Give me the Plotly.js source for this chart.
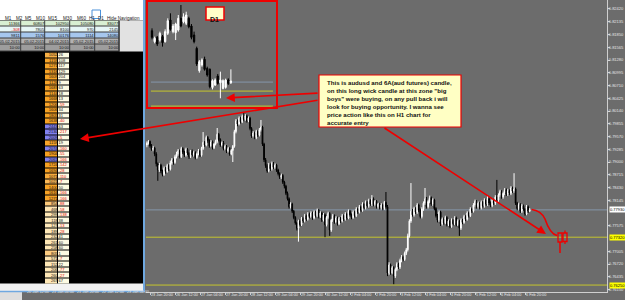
<!DOCTYPE html>
<html><head><meta charset="utf-8">
<script src="https://cdn.plot.ly/plotly-3.0.1.min.js"></script>
<style>html,body{margin:0;padding:0;background:#6c6c6c;overflow:hidden}#chart{width:625px;height:300px}</style>
</head><body><div id="chart"></div>
<script>
// ===== H1 candles (AUDUSD), first visible bar index =====
const FIRST_BAR = 78;
const barOpen = [
0.7938,0.7942,0.7946,0.7936,0.7928,0.7931,0.7918,0.7896,0.7882,0.7893,
0.7880,0.7872,0.7886,0.7879,0.7892,0.7884,0.7898,0.7905,0.7899,0.7912,
0.7918,0.7925,0.7912,0.7930,0.7922,0.7915,0.7928,0.7920,0.7912,0.7924,
0.7916,0.7921,0.7910,0.7918,0.7925,0.7915,0.7930,0.7944,0.7938,0.7955,
0.7948,0.7936,0.7945,0.7932,0.7940,0.7946,0.7962,0.7950,0.7938,0.7943,
0.7930,0.7935,0.7924,0.7930,0.7918,0.7926,0.7935,0.7968,0.7992,0.7985,
0.7998,0.7990,0.8002,0.7995,0.8003,0.7992,0.7998,0.7975,0.7958,0.7965,
0.7955,0.7968,0.7960,0.7972,0.7978,0.7940,0.7905,0.7892,0.7880,0.7894,
0.7885,0.7897,0.7888,0.7893,0.7882,0.7874,0.7866,0.7870,0.7855,0.7846,
0.7830,0.7818,0.7800,0.7806,0.7790,0.7776,0.7764,0.7752,0.7768,0.7760,
0.7774,0.7768,0.7780,0.7772,0.7784,0.7778,0.7786,0.7775,0.7788,0.7780,
0.7792,0.7778,0.7786,0.7770,0.7782,0.7760,0.7776,0.7785,0.7748,0.7770,
0.7780,0.7766,0.7775,0.7762,0.7774,0.7768,0.7780,0.7772,0.7784,0.7775,
0.7790,0.7782,0.7776,0.7788,0.7780,0.7795,0.7788,0.7800,0.7792,0.7806,
0.7798,0.7810,0.7802,0.7814,0.7806,0.7818,0.7805,0.7812,0.7800,0.7806,
0.7798,0.7804,0.7796,0.7810,0.7800,0.7652,0.7670,0.7652,0.7664,0.7645,
0.7660,0.7672,0.7665,0.7680,0.7688,0.7682,0.7696,0.7704,0.7735,0.7768,
0.7790,0.7782,0.7796,0.7788,0.7804,0.7792,0.7778,0.7795,0.7808,0.7818,
0.7800,0.7812,0.7820,0.7806,0.7815,0.7796,0.7780,0.7770,0.7788,0.7762,
0.7772,0.7764,0.7776,0.7760,0.7768,0.7756,0.7770,0.7762,0.7775,0.7760,
0.7768,0.7752,0.7770,0.7765,0.7778,0.7772,0.7786,0.7780,0.7795,0.7790,
0.7804,0.7812,0.7800,0.7808,0.7798,0.7810,0.7802,0.7815,0.7806,0.7818,
0.7808,0.7803,0.7815,0.7808,0.7822,0.7815,0.7826,0.7834,0.7822,0.7830,
0.7838,0.7828,0.7836,0.7830,0.7842,0.7835,0.7840,0.7808,0.7796,0.7805,
0.7790,0.7802,0.7795,0.7784,0.7800,0.7790];
const barHigh = [
0.7946,0.7949,0.7948,0.7940,0.7936,0.7934,0.7922,0.7899,0.7898,0.7896,
0.7883,0.7890,0.7889,0.7896,0.7895,0.7903,0.7909,0.7908,0.7916,0.7923,
0.7929,0.7928,0.7934,0.7933,0.7925,0.7932,0.7931,0.7923,0.7927,0.7928,
0.7925,0.7924,0.7921,0.7929,0.7928,0.7934,0.7967,0.7947,0.7959,0.7958,
0.7951,0.7949,0.7948,0.7943,0.7950,0.7976,0.7965,0.7953,0.7946,0.7947,
0.7939,0.7938,0.7934,0.7933,0.7929,0.7938,0.7972,0.7996,0.7995,0.8002,
0.8001,0.8006,0.8012,0.8007,0.8006,0.8002,0.8001,0.7978,0.7969,0.7968,
0.7972,0.7971,0.7976,0.7994,0.7981,0.7943,0.7909,0.7895,0.7898,0.7897,
0.7901,0.7900,0.7897,0.7896,0.7885,0.7877,0.7874,0.7873,0.7858,0.7849,
0.7834,0.7821,0.7810,0.7809,0.7793,0.7779,0.7767,0.7771,0.7772,0.7777,
0.7778,0.7784,0.7783,0.7788,0.7787,0.7790,0.7789,0.7792,0.7791,0.7796,
0.7795,0.7790,0.7789,0.7786,0.7785,0.7779,0.7789,0.7788,0.7773,0.7784,
0.7783,0.7779,0.7778,0.7777,0.7777,0.7784,0.7783,0.7788,0.7787,0.7794,
0.7793,0.7785,0.7792,0.7791,0.7799,0.7798,0.7804,0.7803,0.7810,0.7809,
0.7814,0.7813,0.7818,0.7817,0.7826,0.7821,0.7815,0.7815,0.7809,0.7809,
0.7808,0.7807,0.7813,0.7833,0.7804,0.7676,0.7673,0.7668,0.7667,0.7664,
0.7676,0.7675,0.7684,0.7692,0.7691,0.7700,0.7708,0.7740,0.7772,0.7853,
0.7795,0.7800,0.7799,0.7808,0.7807,0.7796,0.7799,0.7812,0.7842,0.7822,
0.7816,0.7825,0.7823,0.7819,0.7818,0.7799,0.7784,0.7792,0.7791,0.7776,
0.7776,0.7780,0.7779,0.7772,0.7771,0.7774,0.7773,0.7779,0.7778,0.7772,
0.7771,0.7774,0.7773,0.7782,0.7781,0.7790,0.7789,0.7799,0.7798,0.7808,
0.7816,0.7815,0.7812,0.7811,0.7814,0.7813,0.7819,0.7818,0.7824,0.7821,
0.7812,0.7819,0.7818,0.7826,0.7860,0.7830,0.7838,0.7837,0.7834,0.7842,
0.7841,0.7840,0.7839,0.7846,0.7845,0.7875,0.7843,0.7811,0.7809,0.7808,
0.7806,0.7805,0.7798,0.7804,0.7803,0.7797];
const barLow = [
0.7933,0.7939,0.7932,0.7925,0.7924,0.7913,0.7890,0.7858,0.7878,0.7875,
0.7868,0.7869,0.7874,0.7876,0.7880,0.7881,0.7894,0.7894,0.7896,0.7908,
0.7914,0.7908,0.7909,0.7918,0.7911,0.7912,0.7916,0.7907,0.7909,0.7912,
0.7912,0.7906,0.7907,0.7915,0.7911,0.7912,0.7927,0.7934,0.7935,0.7943,
0.7932,0.7933,0.7928,0.7929,0.7937,0.7942,0.7946,0.7934,0.7935,0.7926,
0.7926,0.7920,0.7921,0.7914,0.7915,0.7900,0.7932,0.7964,0.7980,0.7982,
0.7986,0.7987,0.7991,0.7992,0.7988,0.7989,0.7971,0.7954,0.7955,0.7951,
0.7951,0.7956,0.7957,0.7968,0.7936,0.7900,0.7887,0.7876,0.7877,0.7880,
0.7881,0.7884,0.7884,0.7878,0.7870,0.7862,0.7862,0.7851,0.7841,0.7826,
0.7814,0.7796,0.7796,0.7786,0.7772,0.7760,0.7747,0.7722,0.7756,0.7757,
0.7764,0.7765,0.7768,0.7769,0.7774,0.7775,0.7771,0.7772,0.7776,0.7777,
0.7774,0.7775,0.7766,0.7767,0.7732,0.7756,0.7772,0.7735,0.7744,0.7766,
0.7762,0.7763,0.7758,0.7759,0.7764,0.7765,0.7768,0.7769,0.7771,0.7772,
0.7778,0.7772,0.7773,0.7776,0.7777,0.7784,0.7785,0.7788,0.7789,0.7794,
0.7794,0.7798,0.7798,0.7802,0.7802,0.7801,0.7801,0.7796,0.7796,0.7794,
0.7794,0.7792,0.7793,0.7796,0.7645,0.7648,0.7648,0.7649,0.7627,0.7641,
0.7656,0.7661,0.7661,0.7676,0.7678,0.7679,0.7692,0.7700,0.7731,0.7764,
0.7778,0.7778,0.7784,0.7784,0.7788,0.7774,0.7774,0.7791,0.7804,0.7796,
0.7796,0.7808,0.7802,0.7802,0.7792,0.7776,0.7765,0.7766,0.7757,0.7758,
0.7760,0.7761,0.7756,0.7757,0.7752,0.7753,0.7758,0.7759,0.7756,0.7757,
0.7735,0.7748,0.7761,0.7762,0.7768,0.7769,0.7776,0.7777,0.7786,0.7787,
0.7800,0.7796,0.7796,0.7794,0.7794,0.7798,0.7798,0.7802,0.7802,0.7804,
0.7799,0.7799,0.7804,0.7804,0.7811,0.7811,0.7822,0.7818,0.7818,0.7826,
0.7824,0.7824,0.7826,0.7826,0.7831,0.7831,0.7804,0.7792,0.7792,0.7786,
0.7786,0.7791,0.7780,0.7781,0.7786,0.7788];
const barClose = [
0.7942,0.7946,0.7936,0.7928,0.7931,0.7918,0.7896,0.7882,0.7893,0.7880,
0.7872,0.7886,0.7879,0.7892,0.7884,0.7898,0.7905,0.7899,0.7912,0.7918,
0.7925,0.7912,0.7930,0.7922,0.7915,0.7928,0.7920,0.7912,0.7924,0.7916,
0.7921,0.7910,0.7918,0.7925,0.7915,0.7930,0.7944,0.7938,0.7955,0.7948,
0.7936,0.7945,0.7932,0.7940,0.7946,0.7962,0.7950,0.7938,0.7943,0.7930,
0.7935,0.7924,0.7930,0.7918,0.7926,0.7935,0.7968,0.7992,0.7985,0.7998,
0.7990,0.8002,0.7995,0.8003,0.7992,0.7998,0.7975,0.7958,0.7965,0.7955,
0.7968,0.7960,0.7972,0.7978,0.7940,0.7905,0.7892,0.7880,0.7894,0.7885,
0.7897,0.7888,0.7893,0.7882,0.7874,0.7866,0.7870,0.7855,0.7846,0.7830,
0.7818,0.7800,0.7806,0.7790,0.7776,0.7764,0.7752,0.7768,0.7760,0.7774,
0.7768,0.7780,0.7772,0.7784,0.7778,0.7786,0.7775,0.7788,0.7780,0.7792,
0.7778,0.7786,0.7770,0.7782,0.7760,0.7776,0.7785,0.7748,0.7770,0.7780,
0.7766,0.7775,0.7762,0.7774,0.7768,0.7780,0.7772,0.7784,0.7775,0.7790,
0.7782,0.7776,0.7788,0.7780,0.7795,0.7788,0.7800,0.7792,0.7806,0.7798,
0.7810,0.7802,0.7814,0.7806,0.7818,0.7805,0.7812,0.7800,0.7806,0.7798,
0.7804,0.7796,0.7810,0.7800,0.7652,0.7670,0.7652,0.7664,0.7645,0.7660,
0.7672,0.7665,0.7680,0.7688,0.7682,0.7696,0.7704,0.7735,0.7768,0.7790,
0.7782,0.7796,0.7788,0.7804,0.7792,0.7778,0.7795,0.7808,0.7818,0.7800,
0.7812,0.7820,0.7806,0.7815,0.7796,0.7780,0.7770,0.7788,0.7762,0.7772,
0.7764,0.7776,0.7760,0.7768,0.7756,0.7770,0.7762,0.7775,0.7760,0.7768,
0.7752,0.7770,0.7765,0.7778,0.7772,0.7786,0.7780,0.7795,0.7790,0.7804,
0.7812,0.7800,0.7808,0.7798,0.7810,0.7802,0.7815,0.7806,0.7818,0.7808,
0.7803,0.7815,0.7808,0.7822,0.7815,0.7826,0.7834,0.7822,0.7830,0.7838,
0.7828,0.7836,0.7830,0.7842,0.7835,0.7840,0.7808,0.7796,0.7805,0.7790,
0.7802,0.7795,0.7784,0.7800,0.7790,0.7793];

// time-axis labels: one every 16 H1 bars, starting at bar 0 = "20 Jan 12:00"
const timeLabels = ["20 Jan 12:00","21 Jan 04:00","21 Jan 20:00","22 Jan 12:00","23 Jan 04:00",
 "23 Jan 20:00","26 Jan 12:00","27 Jan 04:00","27 Jan 20:00","28 Jan 12:00","29 Jan 04:00",
 "29 Jan 20:00","30 Jan 12:00","2 Feb 04:00","2 Feb 20:00","3 Feb 12:00","4 Feb 04:00",
 "4 Feb 20:00","5 Feb 12:00","6 Feb 04:00","6 Feb 20:00"];
const BARS_PER_LABEL = 16;
// price scale labels (the two hidden under the level tags are left out)
const priceTicks = [0.82420,0.82135,0.81850,0.81565,0.81280,0.80995,0.80710,0.80425,0.80140,0.79855,
 0.79570,0.79285,0.79000,0.78715,0.78430,0.78145,0.77575,0.77005,0.76720,0.76435,0.76150];
const currentPrice = 0.7793;
const zoneUpper = 0.7732;
const zoneLower = 0.7625;

// ===== D1 inset candles =====
const d1Open  = [0.8306,0.8197,0.8240,0.8213,0.8247,0.8197,0.8280,0.8413,0.8297,0.8286,0.8313,0.8430,0.8396,0.8380,0.8430,0.8353,0.8263,0.8130,0.7907,0.7964,0.8020,0.7930,0.7920,0.7740,0.7764,0.7854,0.7787,0.7730,0.7740,0.7814,0.7787];
const d1High  = [0.8330,0.8247,0.8253,0.8297,0.8263,0.8320,0.8430,0.8480,0.8373,0.8386,0.8463,0.8563,0.8480,0.8496,0.8446,0.8373,0.8297,0.8147,0.8013,0.8030,0.8047,0.7947,0.7930,0.7820,0.7830,0.7874,0.7897,0.7820,0.7827,0.7830,0.7920];
const d1Low   = [0.8220,0.8180,0.8153,0.8197,0.8147,0.8187,0.8263,0.8306,0.8280,0.8213,0.8297,0.8340,0.8380,0.8363,0.8330,0.8220,0.8180,0.7954,0.7887,0.7947,0.7907,0.7847,0.7730,0.7720,0.7754,0.7767,0.7631,0.7720,0.7727,0.7764,0.7774];
const d1Close = [0.8240,0.8230,0.8173,0.8280,0.8187,0.8297,0.8406,0.8320,0.8353,0.8373,0.8430,0.8353,0.8446,0.8463,0.8346,0.8240,0.8197,0.7974,0.7997,0.8013,0.7920,0.7864,0.7747,0.7807,0.7814,0.7780,0.7814,0.7807,0.7814,0.7780,0.7804];
const d1Levels = {current:0.7793, zoneA:0.7703, zoneB:0.7553};

// ===== navigator table =====
const tableRows = [
 ["11366","60807","102950","105080","83077"],
 ["-308","7805","8100","970","2145"],
 ["9811","1576","10176","1114","14080"],
 ["05.02.2015","05.02.2015","04.02.2015","05.02.2015","05.02.2015"],
 ["10:00","10:00","10:00","10:00","10:00"]];
const tableRowColors = ["#d8efd2","#e6f6f6","#a6c7ee","#b2b2b2","#9d9d9d"];

// ===== volume ladder =====
const ladderVol = [1052,1159,1271,1318,1609,1128,1687,1144,1668,1206,1606,1805,1638,2443,2130,2009,1159,2074,1904,2061,1724,1694,1071,1021,1400,1616,1271,854,468,299,118,127,189,232,261,258,805,571,152,206,260,267];
const ladderDelta = [26,108,117,129,204,9,63,18,13,-59,34,31,-40,63,-217,-5,19,-160,-55,-166,-142,-28,-110,-7,50,-166,-166,-88,-58,-138,38,-13,-28,41,60,60,1,-7,22,-77,-27,67];

const toolbarItems = ["M1","M2","M5","M10","M15","M30","M60","H1","D1"];

// ===== helpers (layout geometry) =====
const W = 625, H = 300;
const px = v => v / W;
const py = v => 1 - v / H;
const GRAY = '#6c6c6c', RED = '#ee0000', FONT = 'Liberation Sans';

const barX = barClose.map((_, k) => FIRST_BAR + k);
const d1X = d1Close.map((_, k) => k);
const rowIdx = ladderVol.map((_, k) => k);

const traces = [];
traces.push({type:'candlestick', x:barX, open:barOpen, high:barHigh, low:barLow, close:barClose,
  xaxis:'x', yaxis:'y', whiskerwidth:0,
  increasing:{line:{color:'#ffffff', width:1}, fillcolor:'#ffffff'},
  decreasing:{line:{color:'#000000', width:1}, fillcolor:'#000000'}, hoverinfo:'skip'});
traces.push({type:'candlestick', x:d1X, open:d1Open, high:d1High, low:d1Low, close:d1Close,
  xaxis:'x2', yaxis:'y2', whiskerwidth:0,
  increasing:{line:{color:'#ffffff', width:1}, fillcolor:'#ffffff'},
  decreasing:{line:{color:'#000000', width:1}, fillcolor:'#000000'}, hoverinfo:'skip'});
// ladder cells
traces.push({type:'heatmap', x:[0,13], y:rowIdx, z:ladderVol.map(v=>[v]), xaxis:'x3', yaxis:'y3',
  zmin:0, zmax:2500, showscale:false, xgap:1, ygap:1, hoverinfo:'skip',
  colorscale:[[0,'#fde9bb'],[0.24,'#fde3ad'],[0.3,'#fccf88'],[0.4,'#fbbd63'],[0.44,'#f6a42a'],[0.77,'#f5a020'],[0.78,'#8080f0'],[1,'#8080f0']]});
traces.push({type:'heatmap', x:[13,25], y:rowIdx, z:ladderDelta.map(()=>[1]), xaxis:'x3', yaxis:'y3',
  showscale:false, xgap:1, ygap:1, hoverinfo:'skip', colorscale:[[0,'#fdfbe3'],[1,'#fdfbe3']]});
traces.push({type:'scatter', mode:'text', x:ladderVol.map(()=>12.6), y:rowIdx, text:ladderVol.map(String),
  textposition:'middle left', textfont:{size:4, color:'#111', family:FONT}, xaxis:'x3', yaxis:'y3', hoverinfo:'skip', cliponaxis:false});
traces.push({type:'scatter', mode:'text', x:ladderDelta.map(()=>13.6), y:rowIdx, text:ladderDelta.map(String),
  textposition:'middle right', textfont:{size:4, color:ladderDelta.map(v=>v<0?'#e00000':'#111'), family:FONT}, xaxis:'x3', yaxis:'y3', hoverinfo:'skip', cliponaxis:false});
// navigator table
const tZ = tableRows.map((r, ri) => r.map(() => ri));
const tCs = [];
tableRowColors.forEach((c, i) => { tCs.push([Math.max(0,(i-0.5)/4), c]); tCs.push([Math.min(1,(i+0.5)/4), c]); });
traces.push({type:'heatmap', x:[0.5,1.5,2.5,3.5,4.5], y:[0,1,2,3,4], z:tZ, xaxis:'x4', yaxis:'y4',
  zmin:0, zmax:4, colorscale:tCs, showscale:false, xgap:1, ygap:1, hoverinfo:'skip'});
const tx=[], ty=[], tt=[], tc=[];
tableRows.forEach((r, ri) => r.forEach((v, ci) => { tx.push(ci + 0.95); ty.push(ri); tt.push(v); tc.push(v.startsWith('-') ? '#e00000' : '#111'); }));
traces.push({type:'scatter', mode:'text', x:tx, y:ty, text:tt, textposition:'middle left',
  textfont:{size:4, color:tc, family:FONT}, xaxis:'x4', yaxis:'y4', hoverinfo:'skip', cliponaxis:false});

// ===== shapes =====
const rect = (x0,y0,x1,y1,fill,line,lw,layer) => ({type:'rect', xref:'paper', yref:'paper',
  x0:px(x0), x1:px(x1), y0:py(y1), y1:py(y0), fillcolor:fill||'rgba(0,0,0,0)',
  line:{color:line||'rgba(0,0,0,0)', width:lw||0}, layer:layer||'below'});
const seg = (x0,y0,x1,y1,color,w,layer) => ({type:'line', xref:'paper', yref:'paper',
  x0:px(x0), x1:px(x1), y0:py(y0), y1:py(y1), line:{color, width:w}, layer:layer||'below'});

const shapes = [
  rect(0,0,145,292,'#000000'),
  rect(0,0,143,20.5,'#ffffff'),
  rect(119.5,20.5,143,51.5,'#e2e2e2'),
  rect(0,20.5,119.5,51.5,'#3c3c3c'),
  rect(0,283.5,143,291,'#f2f2f2'),
  rect(0,292,22,300,'#dedede'),
  seg(0,291.5,145,291.5,'#6fa8e0',1.5),
  seg(144,0,144,292,'#6fa8e0',2),
  rect(92,10,100.5,18.5,'#ffffff','#4a90d9',1),
  // main chart levels
  {type:'line', xref:'x', yref:'y', x0:60, x1:400, y0:currentPrice, y1:currentPrice, line:{color:'#8597ab', width:1}, layer:'below'},
  {type:'line', xref:'x', yref:'y', x0:60, x1:400, y0:zoneUpper, y1:zoneUpper, line:{color:'#c6c62e', width:1}, layer:'below'},
  {type:'line', xref:'x', yref:'y', x0:60, x1:400, y0:zoneLower, y1:zoneLower, line:{color:'#c6c62e', width:1}, layer:'below'},
  // inset levels
  {type:'line', xref:'x2', yref:'y2', x0:-0.4, x1:46, y0:d1Levels.current, y1:d1Levels.current, line:{color:'#8597ab', width:1}, layer:'below'},
  {type:'line', xref:'x2', yref:'y2', x0:-0.4, x1:46, y0:d1Levels.zoneA, y1:d1Levels.zoneA, line:{color:'#c6c62e', width:1}, layer:'below'},
  {type:'line', xref:'x2', yref:'y2', x0:-0.4, x1:46, y0:d1Levels.zoneB, y1:d1Levels.zoneB, line:{color:'#c6c62e', width:1}, layer:'below'},
  // overlays
  rect(147,1,277,108,null,RED,2,'above'),
  rect(206,7,224,20,'#ffffc8',RED,1.5,'above'),
  rect(319,75,461,127,'#ffffc4',RED,1.2,'above'),
  {type:'path', xref:'paper', yref:'paper', layer:'above', line:{color:RED, width:1.6},
    path:`M ${px(531.5)},${py(209.5)} Q ${px(541)},${py(210.5)} ${px(545)},${py(219)} Q ${px(550)},${py(234)} ${px(557)},${py(235.5)}`},
  rect(558,233,562,242,null,RED,1.3,'above'),
  seg(560,242,560,253,RED,1.5,'above'),
  rect(563,233,567,241.5,null,RED,1.3,'above'),
  seg(565,230.5,565,233,RED,1.3,'above'),
  seg(565,241.5,565,244,RED,1.3,'above')
];

// ===== annotations =====
const ann = [];
const note = "<b>This is audusd and 6A(aud futures) candle,<br>on this long wick candle at this zone \"big<br>boys\" were buying, on any pull back i will<br>look for buying opportunity. I wanna see<br>price action like this on H1 chart for<br>accurate entry</b>";
ann.push({xref:'paper', yref:'paper', x:px(325), y:py(76.5), xanchor:'left', yanchor:'top', align:'left',
  text:note, showarrow:false, font:{family:FONT, size:6.1, color:'#111'}});
ann.push({xref:'paper', yref:'paper', x:px(215), y:py(13.5), text:'<b>D1</b>', showarrow:false, font:{family:FONT, size:7, color:'#111'}});
const arrow = (hx,hy,tx,ty) => ({xref:'paper', yref:'paper', x:px(hx), y:py(hy), ax:tx-hx, ay:ty-hy,
  axref:'pixel', ayref:'pixel', text:'', showarrow:true, arrowhead:2, arrowsize:1.1, arrowwidth:1.6, arrowcolor:RED, standoff:0, startstandoff:0});
ann.push(arrow(226,98,319,93));
ann.push(arrow(80,139,319,100));
ann.push(arrow(546,234,383,127));
// toolbar
const tbX = [3,14,22.5,33.5,46.5,60.5,74.5,87,96.2];
toolbarItems.forEach((t,i)=>ann.push({xref:'paper', yref:'paper', x:px(tbX[i]), y:py(14.2), text:t, showarrow:false, font:{family:FONT, size:4.6, color:'#222'}}));
ann.push({xref:'paper', yref:'paper', x:px(105), y:py(14.2), xanchor:'left', text:'Hide Navigation', showarrow:false, font:{family:FONT, size:4.6, color:'#222'}});
// price highlight labels on the axis
const tag = (v, bg) => ({xref:'paper', yref:'y', x:px(608.5), y:v, xanchor:'left', text:v.toFixed(5), showarrow:false,
  bgcolor:bg, borderpad:0, font:{family:FONT, size:4, color:'#000'}});
ann.push(tag(currentPrice,'#ffffff'), tag(zoneUpper,'#ffff00'), tag(zoneLower,'#ffff00'));
// time labels of the bars hidden under the navigator window
for (let k = 0; k < 5; k++) {
  ann.push({xref:'paper', yref:'paper', x:px(25 + k*25), y:py(295.8), xanchor:'left', text:timeLabels[k], showarrow:false,
    font:{family:FONT, size:3.8, color:'#e6e6e6'}});
}

const tickIdx = timeLabels.map((_,k)=>k*BARS_PER_LABEL).slice(5);
const layout = {
  width:W, height:H, margin:{l:0,r:0,t:0,b:0}, paper_bgcolor:GRAY, plot_bgcolor:GRAY,
  showlegend:false, font:{family:FONT},
  xaxis:{domain:[px(146),px(607)], anchor:'y', range:[77.44,372.48], rangeslider:{visible:false},
    showgrid:false, zeroline:false, showline:true, linecolor:'#cfcfcf', linewidth:1,
    tickmode:'array', tickvals:tickIdx, ticktext:timeLabels.slice(5), ticks:'outside', ticklen:2, tickcolor:'#cfcfcf',
    tickangle:0, ticklabelposition:'outside right', ticklabelstandoff:-2, tickfont:{size:3.8, color:'#e6e6e6', family:FONT}, fixedrange:true},
  yaxis:{domain:[1-292/H,1], anchor:'x', side:'right', range:[0.76095,0.82621], showgrid:false, zeroline:false,
    showline:true, linecolor:'#cfcfcf', linewidth:1, tickmode:'array', tickvals:priceTicks, tickformat:'.5f',
    ticks:'outside', ticklen:2, tickcolor:'#cfcfcf', ticklabelstandoff:-2, tickfont:{size:4, color:'#e6e6e6', family:FONT}, fixedrange:true},
  xaxis2:{domain:[px(148),px(276)], anchor:'y2', range:[-1.52,47.15], visible:false, rangeslider:{visible:false}},
  yaxis2:{domain:[py(107),py(2)], anchor:'x2', range:[0.7544,0.8593], visible:false},
  xaxis3:{domain:[px(45),px(70)], anchor:'y3', range:[0,25], visible:false},
  yaxis3:{domain:[py(284),py(52.5)], anchor:'x3', range:[41.5,-0.5], visible:false},
  xaxis4:{domain:[0,px(119.5)], anchor:'y4', range:[0.155,5], visible:false},
  yaxis4:{domain:[py(51),py(20.5)], anchor:'x4', range:[4.5,-0.5], visible:false},
  shapes, annotations:ann
};
Plotly.newPlot('chart', traces, layout, {displayModeBar:false, staticPlot:true});
</script></body></html>
